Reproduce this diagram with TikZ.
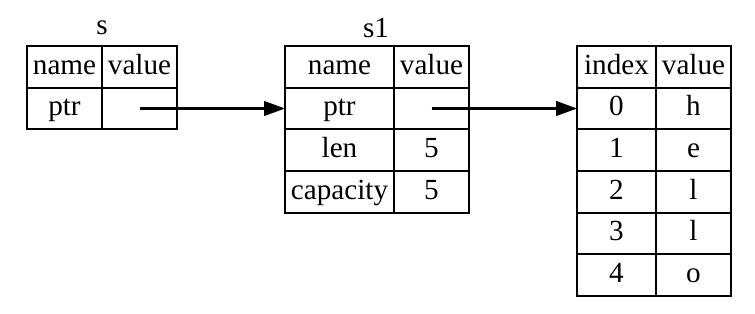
\documentclass[tikz,border=0pt]{standalone}
\usepackage{fontspec}
\setmainfont{Liberation Serif}
\usetikzlibrary{arrows.meta}

\begin{document}
\begin{tikzpicture}[x=0.48pt,y=-0.48pt,font=\fontsize{14}{16}\selectfont,
    cell/.style={draw,line width=1pt,inner sep=0pt,outer sep=0pt,
      minimum height=20pt,text height=10pt,text depth=3pt},
    narrow/.style={cell,minimum width=36pt},
    wide/.style={cell,minimum width=52.3pt},
    idx/.style={cell,minimum width=37.9pt},
    link/.style={line width=1pt,-{Triangle[length=10pt,width=7pt]}}]
  \useasboundingbox (0,0) rectangle (755,313);
  \node (s) at (102,28) {s};
  \node[narrow] (s-n) at (64.5,67) {name};
  \node[narrow] (s-v) at (139.5,67) {value};
  \node[narrow] (s-p) at (64.5,108.5) {ptr};
  \node[narrow] (s-pv) at (139.5,108.5) {};
  \node (s1) at (376,28) {s1};
  \node[wide] (s1-n) at (339.5,67) {name};
  \node[narrow] (s1-v) at (431.5,67) {value};
  \node[wide] (s1-p) at (339.5,108.5) {ptr};
  \node[narrow] (s1-pv) at (431.5,108.5) {};
  \node[wide] (s1-l) at (339.5,150) {len};
  \node[narrow] (s1-lv) at (431.5,150) {5};
  \node[wide] (s1-c) at (339.5,192) {capacity};
  \node[narrow] (s1-cv) at (431.5,192) {5};
  \node[idx] (h-i) at (616.5,67) {index};
  \node[narrow] (h-v) at (693.5,67) {value};
  \node[idx] (h-0) at (616.5,108.5) {0};
  \node[narrow] (h-0v) at (693.5,108.5) {h};
  \node[idx] (h-1) at (616.5,150) {1};
  \node[narrow] (h-1v) at (693.5,150) {e};
  \node[idx] (h-2) at (616.5,192) {2};
  \node[narrow] (h-2v) at (693.5,192) {l};
  \node[idx] (h-3) at (616.5,233.5) {3};
  \node[narrow] (h-3v) at (693.5,233.5) {l};
  \node[idx] (h-4) at (616.5,275) {4};
  \node[narrow] (h-4v) at (693.5,275) {o};
  \draw[link] (s-pv.center) -- (s1-p.west);
  \draw[link] (s1-pv.center) -- (h-0.west);
\end{tikzpicture}
\end{document}
